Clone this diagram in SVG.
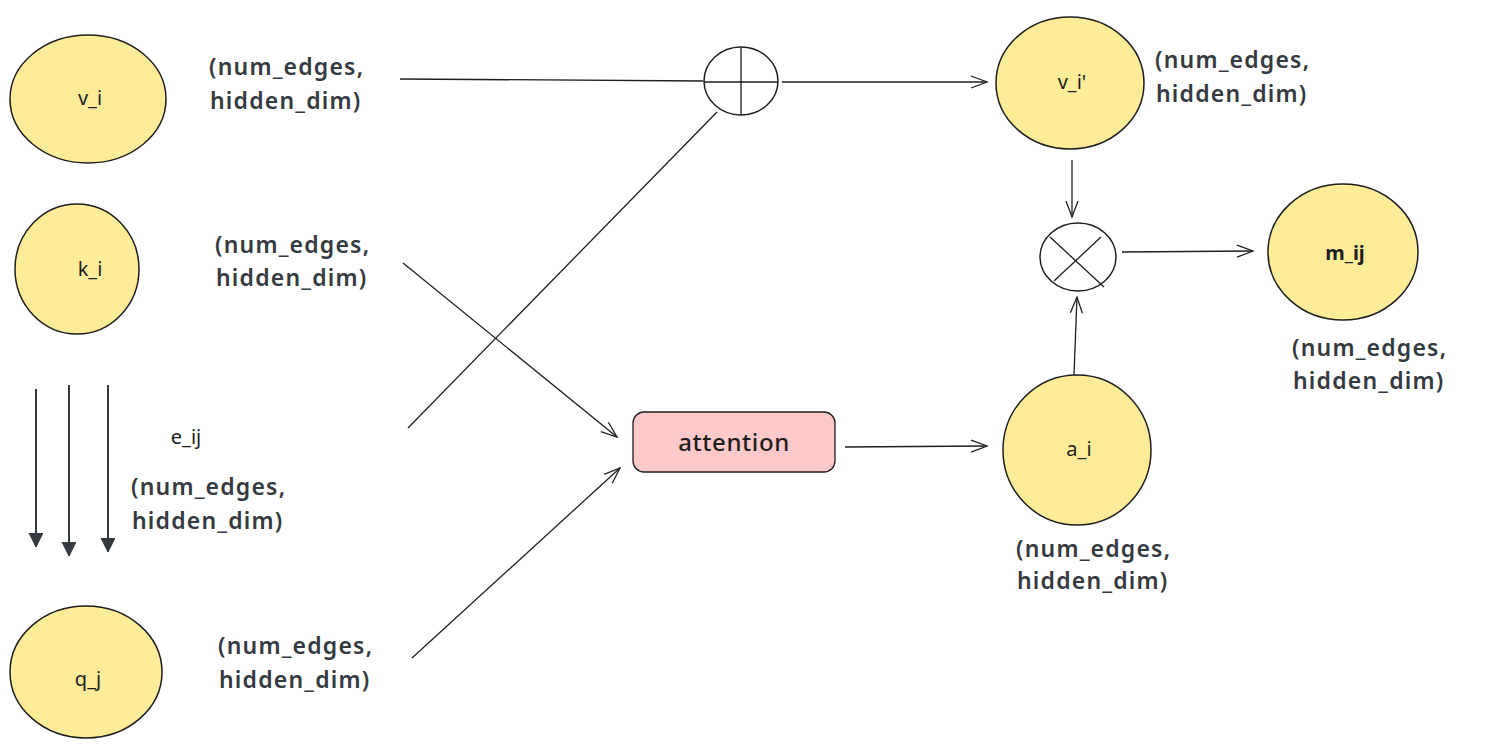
<svg xmlns="http://www.w3.org/2000/svg" width="1508" height="749" viewBox="0 0 1508 749">
<defs>
<marker id="open" markerWidth="20" markerHeight="16" refX="18" refY="8" orient="auto" markerUnits="userSpaceOnUse">
<path d="M2,2 L18,8 L2,14" fill="none" stroke="#1e1e1e" stroke-width="1.3"/>
</marker>
<marker id="solid" markerWidth="16" markerHeight="16" refX="14" refY="7" orient="auto" markerUnits="userSpaceOnUse">
<path d="M0,0 L14,7 L0,14 Z" fill="#343a40" stroke="#343a40" stroke-width="1"/>
</marker>
<style>
.node{fill:#ffec99;stroke:#1e1e1e;stroke-width:1.5}
.op{fill:#ffffff;stroke:#1e1e1e;stroke-width:1.5}
.edge{fill:none;stroke:#1e1e1e;stroke-width:1.3}
.solid{fill:none;stroke:#343a40;stroke-width:2}
.lbl{font-family:"Noto Sans","Liberation Sans",sans-serif;font-size:23px;font-weight:600;fill:#343a40;letter-spacing:1.2px}
.nt{font-family:"Noto Sans","Liberation Sans",sans-serif;font-size:20px;fill:#1e1e1e;text-anchor:middle}
.att{font-family:"Noto Sans","Liberation Sans",sans-serif;font-size:24px;font-weight:500;fill:#1e1e1e;text-anchor:middle;letter-spacing:0.6px}
</style>
</defs>
<rect width="1508" height="749" fill="#ffffff"/>

<g id="connectors">
<line class="edge" x1="400" y1="79" x2="703" y2="81"/>
<line class="edge" x1="782" y1="82" x2="987" y2="82" marker-end="url(#open)"/>
<line class="edge" x1="408" y1="428" x2="717" y2="112"/>
<line class="edge" x1="403" y1="263" x2="617" y2="437" marker-end="url(#open)"/>
<line class="edge" x1="412" y1="658" x2="620" y2="468" marker-end="url(#open)"/>
<line class="edge" x1="845" y1="447" x2="987" y2="446" marker-end="url(#open)"/>
<line class="edge" x1="1072" y1="160" x2="1072" y2="217" marker-end="url(#open)"/>
<line class="edge" x1="1074" y1="375" x2="1077" y2="297" marker-end="url(#open)"/>
<line class="edge" x1="1122" y1="252" x2="1253" y2="251" marker-end="url(#open)"/>
<line class="solid" x1="36" y1="389" x2="36" y2="547" marker-end="url(#solid)"/>
<line class="solid" x1="69" y1="385" x2="69" y2="556" marker-end="url(#solid)"/>
<line class="solid" x1="108" y1="385" x2="108" y2="552" marker-end="url(#solid)"/>
</g>

<g id="v_i">
<ellipse class="node" cx="88" cy="99" rx="78" ry="64"/>
<text class="nt" x="90" y="105">v_i</text>
<text class="lbl" x="209" y="75">(num_edges,</text>
<text class="lbl" x="210" y="109">hidden_dim)</text>
</g>

<g id="k_i">
<ellipse class="node" cx="77" cy="269" rx="62" ry="65"/>
<text class="nt" x="90" y="276">k_i</text>
<text class="lbl" x="215" y="253">(num_edges,</text>
<text class="lbl" x="216" y="286">hidden_dim)</text>
</g>

<g id="e_ij">
<text class="nt" x="186" y="444">e_ij</text>
<text class="lbl" x="131" y="495">(num_edges,</text>
<text class="lbl" x="132" y="529">hidden_dim)</text>
</g>

<g id="q_j">
<ellipse class="node" cx="86" cy="672" rx="76" ry="66"/>
<text class="nt" x="88" y="686">q_j</text>
<text class="lbl" x="218" y="654">(num_edges,</text>
<text class="lbl" x="219" y="688">hidden_dim)</text>
</g>

<g id="plus">
<ellipse class="op" cx="741" cy="81" rx="37" ry="34"/>
<line class="edge" x1="704" y1="82" x2="778" y2="82"/>
<line class="edge" x1="741" y1="48" x2="741" y2="115"/>
</g>

<g id="attention">
<rect x="633" y="412" width="202" height="60" rx="11" fill="#ffc9c9" stroke="#1e1e1e" stroke-width="1.3"/>
<text class="att" x="734" y="451">attention</text>
</g>

<g id="v_i_prime">
<ellipse class="node" cx="1070" cy="83" rx="74" ry="66"/>
<text class="nt" x="1072" y="89">v_i'</text>
<text class="lbl" x="1155" y="68">(num_edges,</text>
<text class="lbl" x="1156" y="102">hidden_dim)</text>
</g>

<g id="times">
<ellipse class="op" cx="1078" cy="257" rx="38" ry="34"/>
<line class="edge" x1="1050" y1="237" x2="1104" y2="287"/>
<line class="edge" x1="1101" y1="237" x2="1054" y2="281"/>
</g>

<g id="m_ij">
<ellipse class="node" cx="1343" cy="252" rx="75" ry="68"/>
<text class="nt" x="1345" y="260" font-weight="700">m_ij</text>
<text class="lbl" x="1292" y="356">(num_edges,</text>
<text class="lbl" x="1293" y="389">hidden_dim)</text>
</g>

<g id="a_i">
<ellipse class="node" cx="1077" cy="450" rx="74" ry="75"/>
<text class="nt" x="1079" y="456">a_i</text>
<text class="lbl" x="1016" y="557">(num_edges,</text>
<text class="lbl" x="1017" y="589">hidden_dim)</text>
</g>
</svg>
